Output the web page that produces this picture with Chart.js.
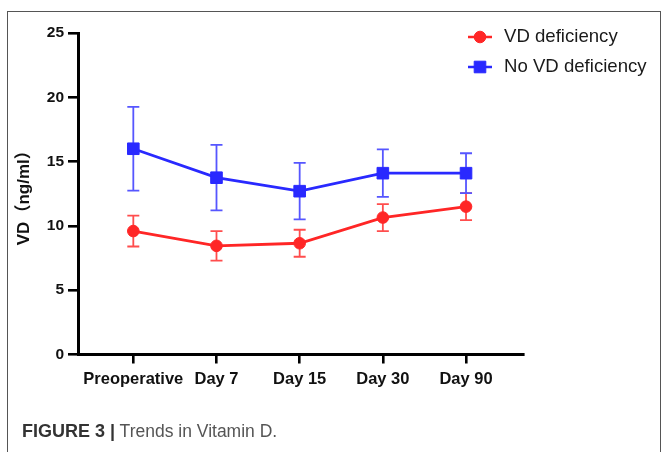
<!DOCTYPE html>
<html>
<head>
<meta charset="utf-8">
<script src="https://cdn.jsdelivr.net/npm/chart.js@4.4.1/dist/chart.umd.min.js"></script>
<style>
  html, body { margin: 0; padding: 0; background: #fff; }
  #wrap { position: relative; width: 662px; height: 452px; overflow: hidden; }
  #frame { position: absolute; left: 7px; top: 11px; width: 654px; height: 460px;
           border: 1px solid #555; border-bottom: none; box-sizing: border-box; }
  #chart { position: absolute; left: 0; top: 0; }
  #caption { position: absolute; left: 22px; top: 421px; white-space: nowrap;
             font: 17.5px "Liberation Sans", Arial, sans-serif; color: #555; }
  #caption b { color: #333; font-size: 18px; }
</style>
</head>
<body>
<div id="wrap">
  <div id="frame"></div>
  <canvas id="chart" width="662" height="452"></canvas>
  <div id="caption"><b>FIGURE 3 |</b> Trends in Vitamin D.</div>
</div>
<script>
// Time points and vitamin D levels (mean ± SD, ng/ml)
const categories = ['Preoperative', 'Day 7', 'Day 15', 'Day 30', 'Day 90'];
const deficiencyMean = [9.6, 8.45, 8.65, 10.65, 11.5];
const deficiencySD   = [1.2, 1.15, 1.05, 1.05, 1.05];
const normalMean     = [16.0, 13.75, 12.7, 14.1, 14.1];
const normalSD       = [3.25, 2.55, 2.2, 1.85, 1.55];
const yTicks = [0, 5, 10, 15, 20, 25];
const seriesNames = ['VD deficiency', 'No VD deficiency'];

const RED = '#ff2626', RED_ERR = '#ff4d4d';
const BLUE = '#2929ff', BLUE_ERR = '#5656ff';
const FONT = '"Liberation Sans", "Noto Sans CJK SC", Arial, sans-serif';

const toPoints = arr => arr.map((v, i) => ({ x: i, y: v }));

// Mean ± SD whiskers, drawn through the chart's own scales
const errorBars = {
  id: 'errorBars',
  beforeDatasetsDraw(chart) {
    const { ctx, scales: { x, y } } = chart;
    const cap = 6;
    chart.data.datasets.forEach(ds => {
      ctx.save();
      ctx.strokeStyle = ds.errorColor;
      ctx.lineWidth = 1.8;
      ds.data.forEach((p, i) => {
        const px = x.getPixelForValue(p.x);
        const top = y.getPixelForValue(p.y + ds.sd[i]);
        const bot = y.getPixelForValue(p.y - ds.sd[i]);
        ctx.beginPath();
        ctx.moveTo(px, top); ctx.lineTo(px, bot);
        ctx.moveTo(px - cap, top); ctx.lineTo(px + cap, top);
        ctx.moveTo(px - cap, bot); ctx.lineTo(px + cap, bot);
        ctx.stroke();
      });
      ctx.restore();
    });
  }
};

// Legend in the upper right: line + marker + name
const lineLegend = {
  id: 'lineLegend',
  afterDraw(chart) {
    const { ctx } = chart;
    const x0 = 468, x1 = 492, tx = 504, rows = [37, 67];
    chart.data.datasets.forEach((ds, i) => {
      const yy = rows[i];
      ctx.save();
      ctx.strokeStyle = ds.borderColor;
      ctx.lineWidth = 2.5;
      ctx.beginPath(); ctx.moveTo(x0, yy); ctx.lineTo(x1, yy); ctx.stroke();
      ctx.fillStyle = ds.pointBackgroundColor;
      ctx.strokeStyle = ds.pointBackgroundColor;
      ctx.lineWidth = 1;
      Chart.helpers.drawPoint(ctx, { pointStyle: ds.pointStyle, radius: ds.pointRadius, borderWidth: 1, rotation: 0 }, (x0 + x1) / 2, yy);
      ctx.fillStyle = '#1a1a1a';
      ctx.font = '18.6px ' + FONT;
      ctx.textBaseline = 'middle';
      ctx.textAlign = 'left';
      ctx.fillText(ds.label, tx, yy);
      ctx.restore();
    });
  }
};

new Chart(document.getElementById('chart'), {
  type: 'line',
  data: {
    datasets: [
      {
        label: seriesNames[0],
        data: toPoints(deficiencyMean),
        sd: deficiencySD,
        errorColor: RED_ERR,
        borderColor: RED,
        borderWidth: 2.8,
        pointStyle: 'circle',
        pointRadius: 5.8,
        pointBackgroundColor: RED,
        pointBorderColor: RED,
        pointBorderWidth: 1,
        tension: 0
      },
      {
        label: seriesNames[1],
        data: toPoints(normalMean),
        sd: normalSD,
        errorColor: BLUE_ERR,
        borderColor: BLUE,
        borderWidth: 2.8,
        pointStyle: 'rect',
        pointRadius: 8.2,
        pointBackgroundColor: BLUE,
        pointBorderColor: BLUE,
        pointBorderWidth: 1,
        tension: 0
      }
    ]
  },
  options: {
    responsive: false,
    animation: false,
    events: [],
    layout: { padding: { left: 0, top: 33, right: 139, bottom: 37.5 } },
    plugins: { legend: { display: false }, tooltip: { enabled: false } },
    scales: {
      x: {
        type: 'linear',
        min: -0.665,
        max: 4.685,
        afterBuildTicks: s => { s.ticks = categories.map((_, i) => ({ value: i })); },
        afterFit: s => { s.height = 60; },
        border: { display: true, color: '#000', width: 3 },
        grid: { display: true, drawOnChartArea: false, drawTicks: true, tickLength: 9,
                tickWidth: 2.6, tickColor: '#000', color: '#000', lineWidth: 2.6 },
        ticks: {
          autoSkip: false, maxRotation: 0, minRotation: 0, padding: 6,
          color: '#111', font: { family: FONT, size: 16.5, weight: 'bold' },
          callback: v => categories[Math.round(v)]
        }
      },
      y: {
        min: 0,
        max: 25,
        afterBuildTicks: s => { s.ticks = yTicks.map(v => ({ value: v })); },
        afterFit: s => { s.width = 78; },
        border: { display: true, color: '#000', width: 3 },
        grid: { display: true, drawOnChartArea: false, drawTicks: true, tickLength: 10,
                tickWidth: 2.6, tickColor: '#000', color: '#000', lineWidth: 2.6 },
        ticks: {
          padding: 4, color: '#111', font: { family: FONT, size: 15.5, weight: 'bold' }
        },
        title: {
          display: true, text: 'VD（ng/ml）', color: '#111',
          font: { family: FONT, size: 17, weight: 'bold' },
          padding: { top: 14, bottom: 0 }
        }
      }
    }
  },
  plugins: [errorBars, lineLegend]
});
</script>
</body>
</html>
